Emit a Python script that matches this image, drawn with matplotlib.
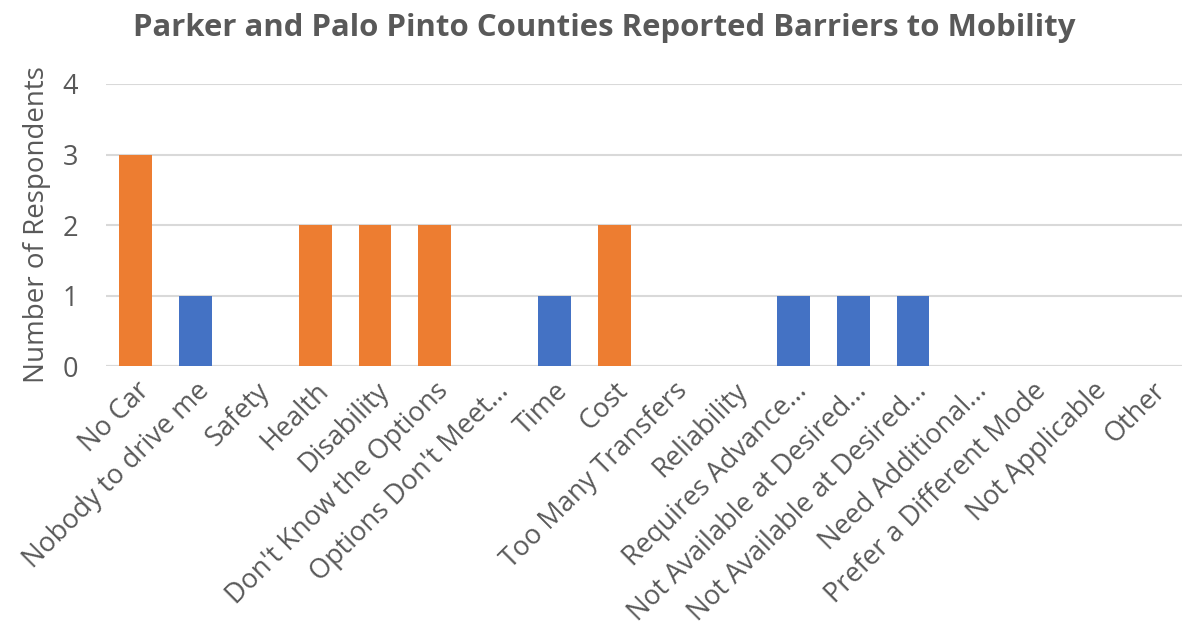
import numpy as np
from matplotlib import pyplot as plt

categories = ["No Car", "Nobody to drive me", "Safety", "Health", "Disability",
              "Don't Know the Options", "Options Don't Meet...", "Time", "Cost",
              "Too Many Transfers", "Reliability", "Requires Advance...",
              "Not Available at Desired...", "Not Available at Desired...",
              "Need Additional...", "Prefer a Different Mode", "Not Applicable", "Other"]
respondents = [3, 1, 0, 2, 2, 2, 0, 1, 2, 0, 0, 1, 1, 1, 0, 0, 0, 0]

ORANGE = '#ED7D31'
BLUE = '#4472C4'
TEXT = '#595959'
GRID = '#D9D9D9'

plt.rcParams['font.family'] = ['Open Sans', 'DejaVu Sans']

fig = plt.figure(figsize=(11.94, 6.30), dpi=100)
ax = fig.add_axes([106 / 1194, 1 - 366 / 630, (1182 - 106) / 1194, (366 - 84) / 630])

x = np.arange(len(categories))
# Two or more respondents in orange, single ones in blue
colors = [ORANGE if v >= 2 else BLUE for v in respondents]
ax.bar(x, respondents, width=0.55, color=colors, zorder=3)

ax.set_xlim(-0.5, len(categories) - 0.5)
ax.set_ylim(0, 4)
ax.set_yticks(range(5))
ax.yaxis.grid(True, color=GRID, linewidth=1.5, zorder=0)
for s in ax.spines.values():
    s.set_visible(False)
ax.axhline(0, color=GRID, linewidth=1.5, zorder=2)

ax.tick_params(axis='both', length=0, colors=TEXT, labelsize=19.5)
ax.tick_params(axis='y', pad=20)
ax.set_xticks(x)
ax.set_xticklabels(categories, rotation=45, ha='right', rotation_mode='anchor')
ax.tick_params(axis='x', pad=8)

ax.set_ylabel('Number of Respondents', color=TEXT, fontsize=20, labelpad=8)
fig.suptitle('Parker and Palo Pinto Counties Reported Barriers to Mobility',
             x=0.506, y=0.98, fontsize=22.4, fontweight='bold', color=TEXT)

fig.savefig('out.png', dpi=100)
